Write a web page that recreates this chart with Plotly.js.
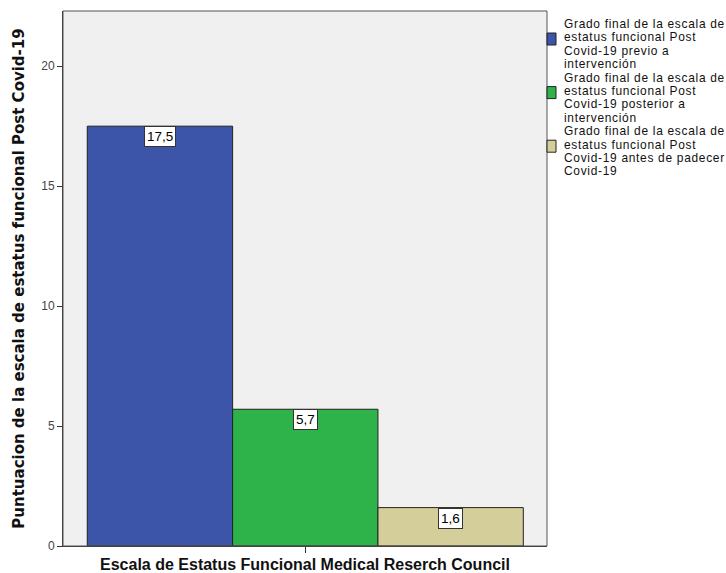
<!DOCTYPE html>
<html>
<head>
<meta charset="utf-8">
<script src="https://cdn.plot.ly/plotly-3.0.1.min.js"></script>
<style>html,body{margin:0;padding:0;background:#fff}#chart{width:726px;height:573px}</style>
</head>
<body>
<div id="chart"></div>
<script>
const seriesNames = [
  "Grado final de la escala de<br>estatus funcional Post<br>Covid-19 previo a<br>intervención",
  "Grado final de la escala de<br>estatus funcional Post<br>Covid-19 posterior a<br>intervención",
  "Grado final de la escala de<br>estatus funcional Post<br>Covid-19 antes de padecer<br>Covid-19"
];
const seriesValues = [17.5, 5.7, 1.6];
const seriesColors = ["#3d55a8", "#2db34a", "#d4cf9a"];
const yTicks = [0, 5, 10, 15, 20];
const xTitle = "Escala de Estatus Funcional Medical Reserch Council";
const yTitle = "Puntuacion de la escala de estatus funcional Post Covid-19";

// layout geometry (pixels)
const W = 726, H = 573;
const M = {l: 63, r: 179, t: 11, b: 27};
const plotW = W - M.l - M.r, plotH = H - M.t - M.b;
const px2x = p => (p - M.l) / plotW;
const py2y = p => (H - M.b - p) / plotH;

const traces = seriesValues.map((v, i) => ({
  type: "bar",
  x: [i],
  y: [v],
  width: [1],
  name: seriesNames[i].replace(/<br>/g, " "),
  marker: {color: seriesColors[i], line: {color: "#222", width: 1}},
  hoverinfo: "none",
  showlegend: false
}));

const annotations = seriesValues.map((v, i) => ({
  x: i, y: v, xref: "x", yref: "y",
  yanchor: "top", xanchor: "center",
  text: v.toFixed(1).replace(".", ","),
  showarrow: false,
  bgcolor: "#ffffff",
  bordercolor: "#333333",
  borderwidth: 1,
  borderpad: 2,
  font: {family: "Liberation Sans, Arial, sans-serif", size: 13.5, color: "#000"}
}));

// legend at the right of the plot: one text block, swatches beside each entry
const legFont = 11.95, legStep = 13.4, legTop = 16.4, legTextX = 563;
const allLines = [];
const shapes = [{
  type: "rect", xref: "paper", yref: "paper", x0: 0, x1: 1, y0: 0, y1: 1,
  line: {color: "#555", width: 1}, fillcolor: "rgba(0,0,0,0)", layer: "above"
}];
seriesNames.forEach((name, i) => {
  const lines = name.split("<br>");
  const top = 33 + legStep * allLines.length;
  shapes.push({
    type: "rect", xref: "paper", yref: "paper",
    x0: px2x(547), x1: px2x(556), y0: py2y(top + 12), y1: py2y(top),
    fillcolor: seriesColors[i], line: {color: "#222", width: 1}, layer: "above"
  });
  lines.forEach(t => allLines.push('<span style="font-size:' + legFont + 'px;letter-spacing:0.7px">' + t + '</span>'));
});
annotations.push({
  xref: "paper", yref: "paper",
  x: px2x(legTextX), y: py2y(legTop),
  xanchor: "left", yanchor: "top", align: "left",
  text: allLines.join("<br>"), showarrow: false, borderpad: 0,
  font: {family: "Liberation Sans, Arial, sans-serif", size: legStep / 1.3, color: "#111"}
});

const layout = {
  width: W, height: H,
  margin: {l: M.l, r: M.r, t: M.t, b: M.b, autoexpand: false},
  paper_bgcolor: "#ffffff",
  plot_bgcolor: "#f0f0f0",
  font: {family: "Liberation Sans, Arial, sans-serif", size: 12, color: "#222"},
  barmode: "overlay",
  showlegend: false,
  xaxis: {
    range: [-0.667, 2.663],
    tickvals: [1], ticktext: [""],
    ticks: "outside", ticklen: 6, tickcolor: "#333",
    showgrid: false, zeroline: false,
    showline: true, linecolor: "#333", linewidth: 1,
    title: {text: "<b>" + xTitle + "</b>", font: {size: 16, color: "#111"}, standoff: 4}
  },
  yaxis: {
    range: [0, 22.3],
    tickvals: yTicks,
    ticks: "outside", ticklen: 5, tickcolor: "#333",
    tickfont: {size: 12, color: "#444"},
    showgrid: false, zeroline: false,
    showline: true, linecolor: "#333", linewidth: 1,
    title: {text: "<b>" + yTitle + "</b>", font: {family: "DejaVu Sans, sans-serif", size: 15, color: "#111"}, standoff: 12}
  },
  shapes: shapes,
  annotations: annotations
};

Plotly.newPlot("chart", traces, layout, {displayModeBar: false, staticPlot: true});
</script>
</body>
</html>
